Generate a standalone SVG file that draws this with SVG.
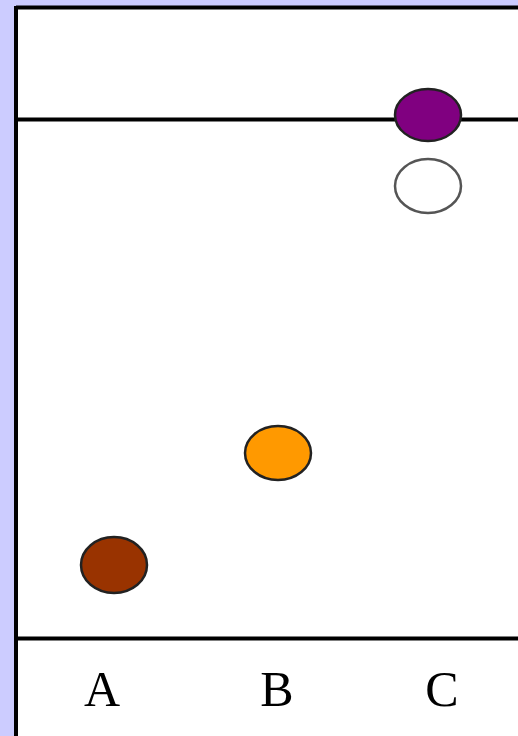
<svg xmlns="http://www.w3.org/2000/svg" width="518" height="736" viewBox="0 0 518 736">
<style>
.ln{stroke:#000;stroke-width:4;fill:none}
.dot{stroke:#222;stroke-width:2.5}
.lbl{font-family:"Liberation Serif",serif;font-size:50px;fill:#000;text-anchor:middle}
</style>
<rect x="0" y="0" width="518" height="736" fill="#CCCCFF"/>
<rect x="16" y="7.5" width="520" height="740" fill="#fff"/>
<g id="frame">
<line class="ln" x1="16" y1="7.5" x2="518" y2="7.5"/>
<line class="ln" x1="16" y1="6" x2="16" y2="736"/>
<line class="ln" x1="16" y1="119.5" x2="518" y2="119.5"/>
<line class="ln" x1="16" y1="638.5" x2="518" y2="638.5"/>
</g>
<g id="spot-c1"><ellipse class="dot" cx="428" cy="115" rx="33" ry="26" fill="#800080"/></g>
<g id="spot-c2"><ellipse cx="428" cy="186" rx="33" ry="27" fill="#fff" stroke="#555" stroke-width="2.5"/></g>
<g id="spot-b"><ellipse class="dot" cx="278" cy="453" rx="33" ry="27" fill="#FF9900"/></g>
<g id="spot-a"><ellipse class="dot" cx="114" cy="565" rx="33" ry="28" fill="#993300"/></g>
<g id="labels">
<text class="lbl" x="102" y="706">A</text>
<text class="lbl" x="277" y="706">B</text>
<text class="lbl" x="442" y="706">C</text>
</g>
</svg>
